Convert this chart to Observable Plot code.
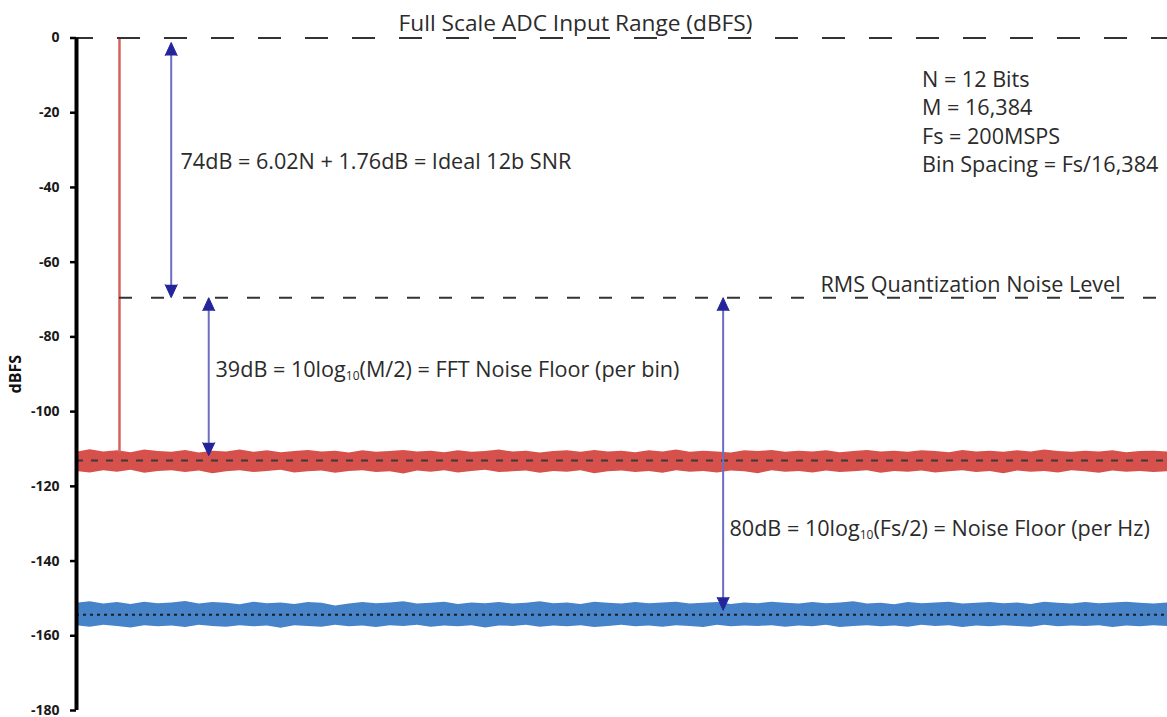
<!DOCTYPE html>
<html>
<head>
<meta charset="utf-8">
<script src="https://cdn.jsdelivr.net/npm/d3@7"></script>
<script src="https://cdn.jsdelivr.net/npm/@observablehq/plot@0.6"></script>
<style>
  html, body { margin: 0; padding: 0; background: #fff; }
  #chart svg { display: block; }
  #chart svg g[aria-label="y-axis tick label"] { font-size: 14px; font-weight: 700; }
</style>
</head>
<body>
<div id="chart"></div>
<script>
// ---- data ----
const yTicks = [0, -20, -40, -60, -80, -100, -120, -140, -160, -180];

// frequency bins (MHz, 0 .. Fs/2)
const freq = [0,1.25,2.5,3.75,5,6.25,7.5,8.75,10,11.25,12.5,13.75,15,16.25,17.5,18.75,20,21.25,22.5,23.75,25,26.25,27.5,28.75,30,31.25,32.5,33.75,35,36.25,37.5,38.75,40,41.25,42.5,43.75,45,46.25,47.5,48.75,50,51.25,52.5,53.75,55,56.25,57.5,58.75,60,61.25,62.5,63.75,65,66.25,67.5,68.75,70,71.25,72.5,73.75,75,76.25,77.5,78.75,80,81.25,82.5,83.75,85,86.25,87.5,88.75,90,91.25,92.5,93.75,95,96.25,97.5,98.75,100];

// FFT noise (per bin) envelope, dBFS
const redTop = [-110.9,-110.2,-110.8,-110.5,-111.0,-110.3,-110.7,-110.9,-110.4,-111.1,
-110.6,-110.8,-110.3,-110.9,-110.5,-111.0,-110.7,-110.4,-110.8,-110.6,
-111.1,-110.5,-110.9,-110.7,-110.4,-110.8,-110.6,-111.0,-110.5,-110.9,
-110.7,-110.3,-110.8,-110.6,-111.1,-110.7,-110.5,-110.9,-110.4,-110.8,
-110.6,-111.0,-110.5,-110.8,-110.3,-110.9,-110.6,-110.8,-111.1,-110.5,
-110.7,-110.4,-110.9,-110.6,-110.8,-110.5,-111.0,-110.7,-110.4,-110.8,
-110.6,-110.9,-110.5,-110.7,-111.0,-110.4,-110.8,-110.6,-110.9,-110.5,
-110.8,-110.3,-110.7,-110.9,-110.6,-110.8,-110.5,-111.0,-110.7,-110.6,
-110.8];
const redBottom = [-116.0,-116.4,-115.8,-116.2,-115.7,-116.5,-116.0,-115.8,-116.3,-115.9,
-116.6,-116.1,-115.8,-116.3,-116.0,-115.7,-116.4,-116.1,-115.9,-116.5,
-116.0,-115.8,-116.3,-116.1,-116.7,-115.9,-116.2,-115.8,-116.4,-116.0,
-115.7,-116.3,-116.1,-115.9,-116.5,-116.0,-116.2,-115.8,-116.6,-116.1,
-115.9,-116.3,-116.0,-116.5,-115.8,-116.2,-116.0,-116.4,-115.9,-116.1,
-116.6,-115.8,-116.2,-116.0,-116.4,-115.9,-116.3,-116.1,-115.8,-116.5,
-116.0,-116.2,-115.9,-116.4,-116.1,-115.8,-116.3,-116.0,-116.6,-115.9,
-116.2,-116.0,-116.4,-115.8,-116.1,-116.5,-115.9,-116.2,-116.0,-116.3,
-116.1];
// noise (per Hz) envelope, dBFS
const blueTop = [-151.3,-150.9,-151.5,-151.1,-151.6,-151.0,-151.4,-151.2,-150.8,-151.5,
-151.1,-151.3,-151.7,-151.0,-151.4,-151.2,-151.6,-151.1,-151.3,-152.0,
-151.5,-151.1,-151.4,-151.2,-150.9,-151.5,-151.3,-151.0,-151.6,-151.2,
-151.4,-151.1,-151.5,-151.3,-150.9,-151.4,-151.2,-151.6,-151.0,-151.3,
-151.5,-151.1,-151.4,-151.2,-151.0,-151.5,-151.3,-151.1,-151.6,-151.2,
-151.4,-151.0,-151.3,-151.5,-151.1,-151.4,-151.2,-150.9,-151.5,-151.3,
-151.7,-151.1,-151.4,-151.2,-151.0,-151.5,-151.3,-151.1,-151.4,-151.2,
-151.6,-151.0,-151.3,-151.5,-151.1,-151.4,-151.2,-151.0,-151.3,-151.5,
-151.2];
const blueBottom = [-157.3,-157.7,-157.2,-157.5,-157.9,-157.3,-157.6,-157.4,-157.8,-157.2,
-157.5,-157.7,-157.3,-157.6,-157.4,-158.0,-157.3,-157.5,-157.7,-157.2,
-157.6,-157.4,-157.8,-157.3,-157.5,-157.2,-157.7,-157.4,-157.6,-157.3,
-157.9,-157.4,-157.5,-157.2,-157.7,-157.4,-157.6,-157.3,-157.8,-157.5,
-157.2,-157.6,-157.4,-157.7,-157.3,-157.5,-157.8,-157.2,-157.6,-157.4,
-157.5,-157.3,-157.7,-157.4,-157.6,-157.2,-157.8,-157.5,-157.3,-157.6,
-157.4,-157.7,-157.2,-157.5,-157.3,-157.8,-157.4,-157.6,-157.3,-157.5,
-157.7,-157.2,-157.6,-157.4,-157.5,-157.3,-157.8,-157.4,-157.6,-157.3,
-157.5];

// levels
const fullScale = 0;
const rmsLevel = -69.5;
const binFloor = -113.1;
const hzFloor = -154.4;

// signal tone
const toneFreq = [3.94];
const toneLevel = [0];

// dimension arrows
const arrowFreq = [8.68, 12.12, 59.27];
const arrowTop = [-1.2, -69.5, -69.5];
const arrowBottom = [-69.5, -111.8, -153.2];

// annotation texts
const titleText = ["Full Scale ADC Input Range (dBFS)"];
const infoLines = ["N = 12 Bits", "M = 16,384", "Fs = 200MSPS", "Bin Spacing = Fs/16,384"];
const infoY = [-13.17, -20.74, -28.32, -35.92];
const noteText = [
  "74dB = 6.02N + 1.76dB = Ideal 12b SNR",
  "RMS Quantization Noise Level",
  "39dB = 10log10(M/2) = FFT Noise Floor (per bin)",
  "80dB = 10log10(Fs/2) = Noise Floor (per Hz)"
];
const noteX = [9.53, 68.19, 12.74, 59.85];
const noteY = [-34.93, -67.99, -90.79, -133.16];

// ---- build tables ----
const noise = freq.map((f, i) => ({f, rt: redTop[i], rb: redBottom[i], bt: blueTop[i], bb: blueBottom[i]}));
const arrows = arrowFreq.map((f, i) => ({f, top: arrowTop[i], bottom: arrowBottom[i]}));
const notes = noteText.map((t, i) => ({t, x: noteX[i], y: noteY[i]}));
const info = infoLines.map((t, i) => ({t, y: infoY[i]}));
const tone = toneFreq.map((f, i) => ({f, level: toneLevel[i]}));

const RED = "#d6514b";
const BLUE = "#4783c9";
const TXT = "#2b2b2b";
const NAVY = "#25259b";
const SHAFT = "#6d6dc2";
const FONT = "'Open Sans', Lato, sans-serif";
const FS = 21.6;

const chart = Plot.plot({
  width: 1167,
  height: 717,
  marginLeft: 76,
  marginRight: 0,
  marginTop: 37.5,
  marginBottom: 7,
  style: {fontFamily: FONT, background: "#fff", overflow: "visible"},
  x: {domain: [0, 100], axis: null},
  y: {domain: [-180, 0], axis: null},
  marks: [
    Plot.areaY(noise, {x: "f", y1: "rb", y2: "rt", fill: RED}),
    Plot.areaY(noise, {x: "f", y1: "bb", y2: "bt", fill: BLUE}),
    Plot.ruleY([binFloor], {x1: 0, x2: 100, stroke: "#3a3a3a", strokeWidth: 2, strokeDasharray: "7,8"}),
    Plot.ruleY([hzFloor], {x1: 0, x2: 100, stroke: "#1e1e1e", strokeWidth: 2, strokeDasharray: "3,4"}),
    Plot.ruleX(tone, {x: "f", y1: binFloor + 2, y2: "level", stroke: "#d8625c", strokeWidth: 2.5}),
    Plot.ruleY([fullScale], {x1: -0.55, x2: 100, stroke: "#333", strokeWidth: 2, strokeDasharray: "23,24"}),
    Plot.ruleY([rmsLevel], {x1: toneFreq[0], x2: 100, stroke: "#333", strokeWidth: 2, strokeDasharray: "13,19"}),
    Plot.ruleX([0], {y1: -180, y2: 0, stroke: "#000", strokeWidth: 4}),
    Plot.axisY({ticks: yTicks, tickSize: 6, tickPadding: 11, tickFormat: d => String(d), fontWeight: "bold", fontSize: 14, strokeWidth: 2.5, label: null, fill: "#1a1a1a"}),
    Plot.text(["dBFS"], {x: 0, y: -90, dx: -61, rotate: -90, fontWeight: "bold", fontSize: 16, fill: "#111"}),
    // arrows
    Plot.ruleX(arrows, {x: "f", y1: "top", y2: "bottom", stroke: SHAFT, strokeWidth: 2, insetTop: 8, insetBottom: 8}),
    Plot.vector(arrows, {x: "f", y: "top", length: 13, r: 6, shape: "spike", anchor: "end", rotate: 0, fill: NAVY, stroke: NAVY, strokeWidth: 1}),
    Plot.vector(arrows, {x: "f", y: "bottom", length: 13, r: 6, shape: "spike", anchor: "end", rotate: 180, fill: NAVY, stroke: NAVY, strokeWidth: 1}),
    // texts
    Plot.text(titleText, {x: 45.74, y: 2.0, text: d => d, textAnchor: "middle", lineAnchor: "bottom", fontSize: 22.7, fill: TXT}),
    Plot.text(info, {x: 77.5, y: "y", text: "t", textAnchor: "start", lineAnchor: "bottom", fontSize: FS, fill: TXT}),
    Plot.text(notes, {x: "x", y: "y", text: "t", textAnchor: "start", lineAnchor: "bottom", fontSize: FS, fill: TXT})
  ]
});

// subscript "10" in log10
for (const t of chart.querySelectorAll("text")) {
  const s = t.textContent;
  const i = s.indexOf("log10(");
  if (i >= 0 && t.children.length === 0) {
    const parts = [s.slice(0, i + 3), "10", s.slice(i + 5)];
    t.textContent = "";
    const ns = "http://www.w3.org/2000/svg";
    const a = document.createElementNS(ns, "tspan"); a.textContent = parts[0];
    const b = document.createElementNS(ns, "tspan"); b.textContent = parts[1];
    b.setAttribute("font-size", "12"); b.setAttribute("dy", "3");
    const c = document.createElementNS(ns, "tspan"); c.textContent = parts[2];
    c.setAttribute("dy", "-3");
    t.append(a, b, c);
  }
}

document.getElementById("chart").appendChild(chart);
</script>
</body>
</html>
